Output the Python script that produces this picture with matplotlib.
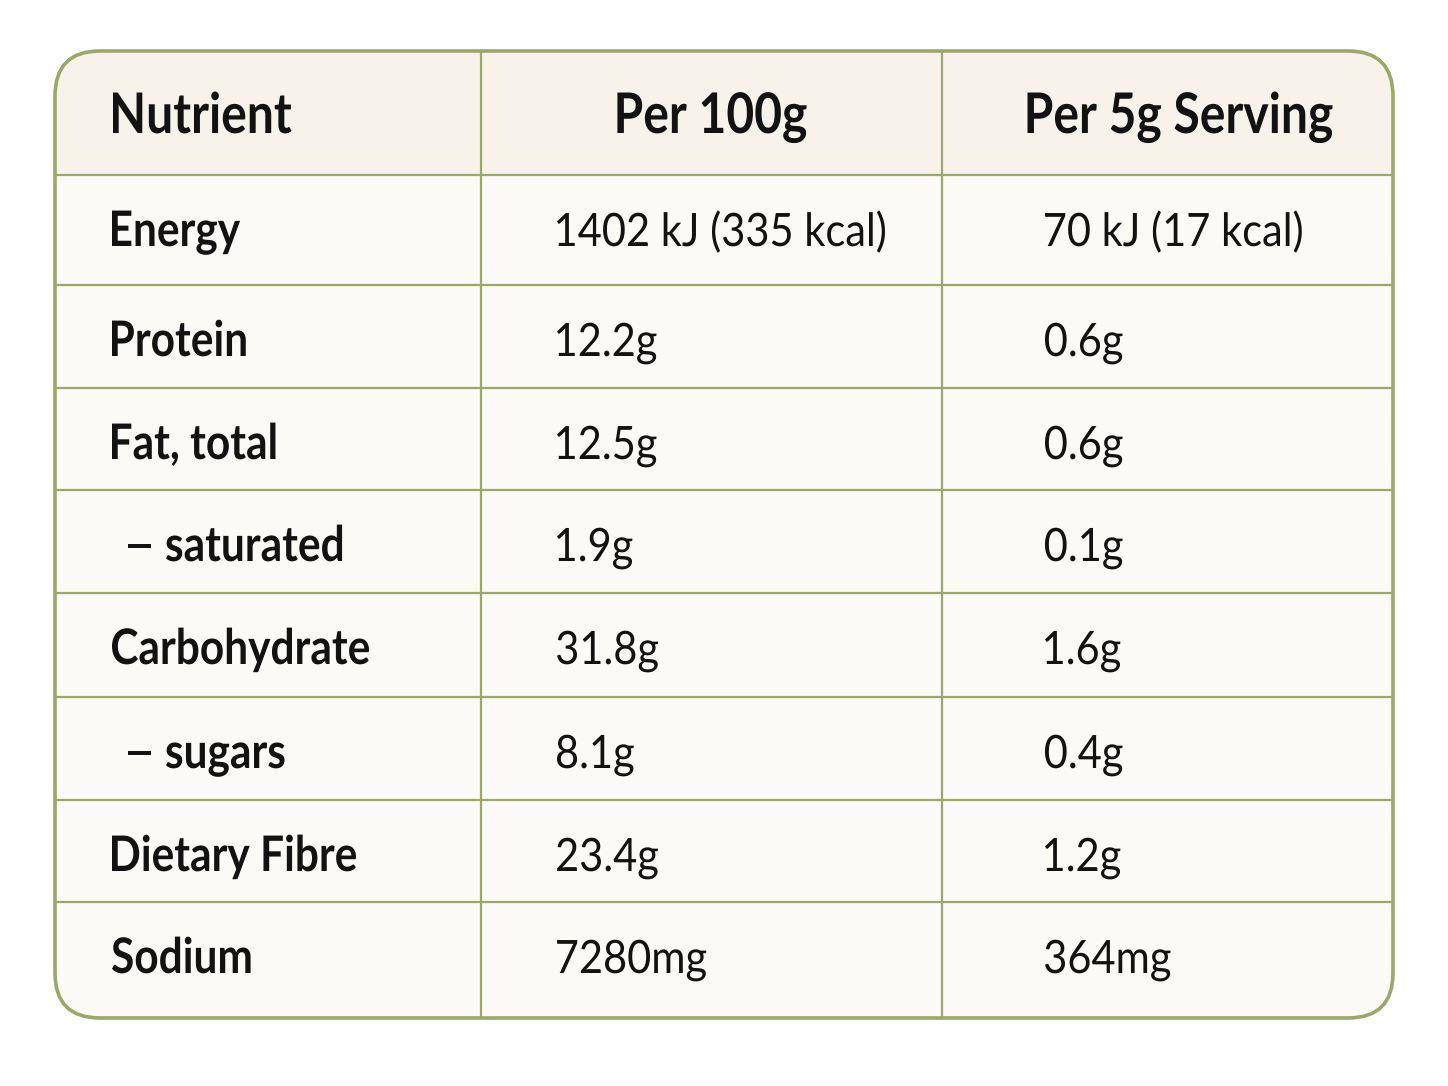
import matplotlib
matplotlib.use("Agg")
import matplotlib.pyplot as plt
from matplotlib.patches import FancyBboxPatch, Rectangle, PathPatch
from matplotlib.textpath import TextPath
from matplotlib.font_manager import FontProperties
from matplotlib.transforms import Affine2D

headers = ["Nutrient", "Per 100g", "Per 5g Serving"]
nutrients = ["Energy", "Protein", "Fat, total", "\u2013 saturated", "Carbohydrate",
             "\u2013 sugars", "Dietary Fibre", "Sodium"]
per_100g = ["1402 kJ (335 kcal)", "12.2g", "12.5g", "1.9g", "31.8g", "8.1g", "23.4g", "7280mg"]
per_serving = ["70 kJ (17 kcal)", "0.6g", "0.6g", "0.1g", "1.6g", "0.4g", "1.2g", "364mg"]

border = "#9aa86a"
ink = "#121212"
bold = FontProperties(family="Lato", weight="bold")
regular = FontProperties(family="Lato", weight="normal")

# layout in pixels
left, right, top, bottom = 55, 1393, 51, 1018
col_x = [left, 481, 942, right]
row_y = [top, 175, 285, 388, 490, 593, 697, 800, 902, bottom]


def text_width(s, size, prop):
    ext = TextPath((0, 0), s, size=size, prop=prop).get_extents()
    return ext.x1 - ext.x0


# the reference face is a condensed sans, so squeeze Lato horizontally
sx_head = 305 / text_width("Per 5g Serving", 56, bold)
sx_bold = 257 / text_width("Carbohydrate", 49, bold)
sx_reg = 328 / text_width("1402 kJ (335 kcal)", 46, regular)


def draw(ax, x, base, s, size, prop, sx, ha="left", stretch=1.0):
    path = TextPath((0, 0), s, size=size, prop=prop)
    ext = path.get_extents()
    if ha == "center":
        dx = x - (ext.x0 + ext.x1) / 2 * sx
    else:
        dx = x - ext.x0 * sx * stretch
    tr = Affine2D().scale(sx * stretch, -1).translate(dx, base) + ax.transData
    ax.add_patch(PathPatch(path, transform=tr, facecolor=ink,
                           edgecolor="none", lw=0, zorder=5))


fig = plt.figure(figsize=(14.48, 10.86), dpi=100)
ax = fig.add_axes([0, 0, 1, 1])
ax.set_xlim(0, 1448)
ax.set_ylim(1086, 0)
ax.axis("off")

box = FancyBboxPatch((left, top), right - left, bottom - top,
                     boxstyle="round,pad=0,rounding_size=45",
                     facecolor="#fbfaf6", edgecolor="none", zorder=1)
ax.add_patch(box)
head = Rectangle((left, top), right - left, row_y[1] - top,
                 facecolor="#f7f3eb", edgecolor="none", zorder=2)
ax.add_patch(head)
head.set_clip_path(box)

for y in row_y[1:-1]:
    ax.plot([left, right], [y, y], color=border, lw=1.6, zorder=3)
for x in col_x[1:-1]:
    ax.plot([x, x], [top, bottom], color=border, lw=1.6, zorder=3)

outline = FancyBboxPatch((left, top), right - left, bottom - top,
                         boxstyle="round,pad=0,rounding_size=45",
                         facecolor="none", edgecolor=border, lw=2.6, zorder=4)
ax.add_patch(outline)

draw(ax, 113, 133, headers[0], 56, bold, sx_head)
draw(ax, 712, 133, headers[1], 56, bold, sx_head, ha="center")
draw(ax, 1180, 133, headers[2], 56, bold, sx_head, ha="center")

for i, name in enumerate(nutrients):
    base = row_y[i + 1] + 71
    if name.startswith("\u2013"):
        # sub-items: wide dash, then the label indented
        draw(ax, 128, base, "\u2013", 49, bold, sx_bold, stretch=1.35)
        draw(ax, 166, base, name[2:], 49, bold, sx_bold)
    else:
        draw(ax, 112, base, name, 49, bold, sx_bold)
    draw(ax, 557, base, per_100g[i], 46, regular, sx_reg)
    draw(ax, 1045, base, per_serving[i], 46, regular, sx_reg)

fig.savefig("out.png", dpi=100, facecolor="white")
